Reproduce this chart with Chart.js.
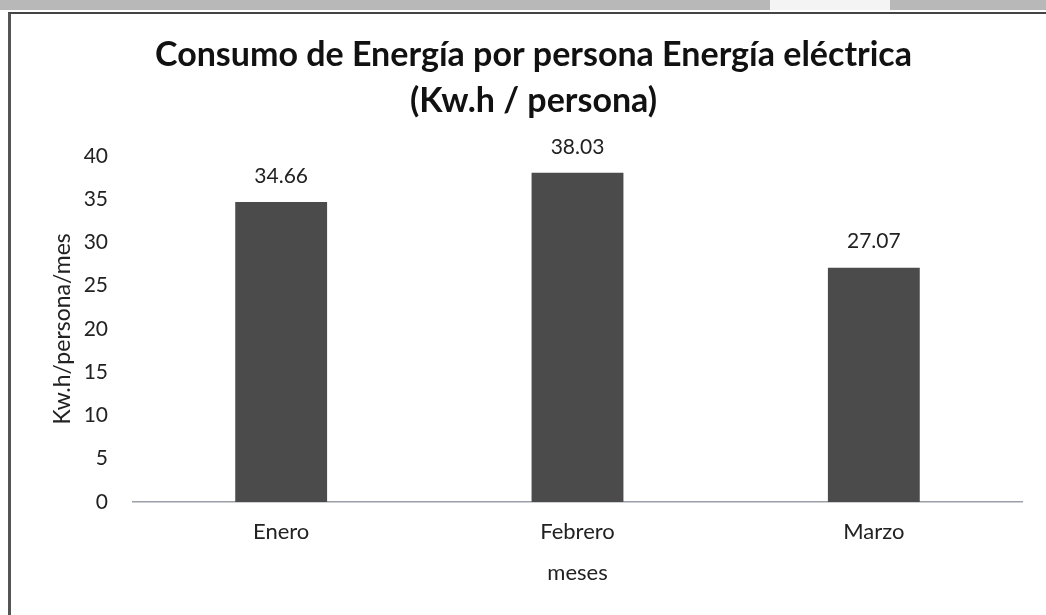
<!DOCTYPE html>
<html>
<head>
<meta charset="utf-8">
<script src="https://cdn.jsdelivr.net/npm/chart.js@4.4.0/dist/chart.umd.min.js"></script>
<style>
    html, body { margin: 0; padding: 0; background: #fff; }
    #wrap { position: relative; width: 1046px; height: 615px; overflow: hidden; }
    #topband { position: absolute; left: 0; top: 0; width: 1046px; height: 10px; background: #b8b8b8; }
    #gap { position: absolute; left: 770px; top: 0; width: 120px; height: 10px; background: #f4f4f4; }
    #frame { position: absolute; left: 8px; top: 12px; width: 1040px; height: 610px;
             border-left: 3px solid #555; border-top: 2px solid #444; box-sizing: border-box; }
    canvas { position: absolute; left: 0; top: 0; }
</style>
</head>
<body>
<div id="wrap">
    <div id="topband"></div>
    <div id="gap"></div>
    <div id="frame"></div>
    <canvas id="chart1" width="1046" height="615"></canvas>
</div>
<script>
const meses = ["Enero", "Febrero", "Marzo"];
const consumo = [34.66, 38.03, 27.07];
const yTicks = [0, 5, 10, 15, 20, 25, 30, 35, 40];

// etiquetas de valor encima de cada barra
const valueLabels = {
    id: "valueLabels",
    afterDatasetsDraw(chart) {
        const ctx = chart.ctx;
        const meta = chart.getDatasetMeta(0);
        ctx.save();
        ctx.font = "21px Lato";
        ctx.fillStyle = "#222";
        ctx.textAlign = "center";
        ctx.textBaseline = "middle";
        meta.data.forEach((bar, i) => {
            ctx.fillText(consumo[i].toFixed(2), bar.x, bar.y - 26);
        });
        ctx.restore();
    }
};

const ctx = document.getElementById("chart1").getContext("2d");
new Chart(ctx, {
    type: "bar",
    data: {
        labels: meses,
        datasets: [{
            data: consumo,
            backgroundColor: "#4b4b4b",
            borderWidth: 0,
            categoryPercentage: 1,
            barPercentage: 0.31
        }]
    },
    options: {
        responsive: false,
        animation: false,
        layout: { padding: { left: 45, right: 24, top: 32, bottom: 0 } },
        plugins: {
            legend: { display: false },
            tooltip: { enabled: false },
            title: {
                display: true,
                text: ["Consumo de Energía por persona Energía eléctrica", "(Kw.h / persona)"],
                font: { family: "Lato", size: 34, weight: "bold", lineHeight: 1.35 },
                color: "#111",
                padding: { top: 0, bottom: 32 }
            }
        },
        scales: {
            x: {
                grid: { display: false, drawTicks: false },
                border: { display: true, color: "#9aa0a8", width: 1.5 },
                ticks: { font: { family: "Lato", size: 22 }, color: "#222", padding: 17 },
                title: {
                    display: true, text: "meses",
                    font: { family: "Lato", size: 22 }, color: "#222",
                    padding: { top: 4, bottom: 29 }
                },
                afterFit(scale) { scale.height = 113; }
            },
            y: {
                min: 0, max: 40,
                afterBuildTicks(scale) { scale.ticks = yTicks.map(v => ({ value: v })); },
                grid: { display: false, drawTicks: false },
                border: { display: false },
                ticks: { font: { family: "Lato", size: 21 }, color: "#222", padding: 25 },
                title: {
                    display: true, text: "Kw.h/persona/mes",
                    font: { family: "Lato", size: 23 }, color: "#222", padding: 4
                },
                afterFit(scale) { scale.width = 88; }
            }
        }
    },
    plugins: [valueLabels]
});
</script>
</body>
</html>
